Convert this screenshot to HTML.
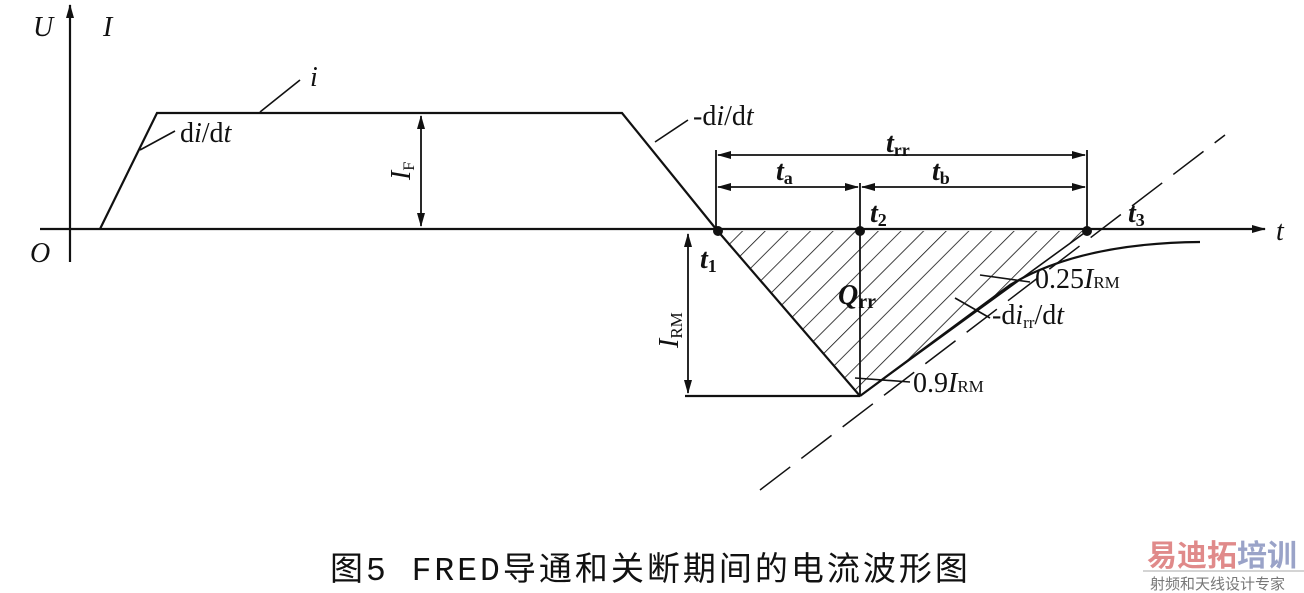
<!DOCTYPE html>
<html><head><meta charset="utf-8"><style>
html,body{margin:0;padding:0;background:#fff;}
svg{display:block}
text{font-family:"Liberation Serif",serif;fill:#111}
</style></head><body>
<svg width="1304" height="593" viewBox="0 0 1304 593" xmlns="http://www.w3.org/2000/svg">
<defs>
<marker id="a" markerWidth="14" markerHeight="8" refX="13" refY="4" orient="auto" markerUnits="userSpaceOnUse"><path d="M0,0 L14,4 L0,8 Z" fill="#111"/></marker>
<marker id="b" markerWidth="14" markerHeight="8" refX="1" refY="4" orient="auto" markerUnits="userSpaceOnUse"><path d="M14,0 L0,4 L14,8 Z" fill="#111"/></marker>
<clipPath id="c"><path d="M716,231 L860,396 L1087,231 Z"/></clipPath>
<pattern id="h" width="16" height="16" patternUnits="userSpaceOnUse" patternTransform="rotate(45)"><line x1="0" y1="0" x2="0" y2="16" stroke="#111" stroke-width="1.6"/></pattern>
</defs>
<g stroke="#111" stroke-width="2.2" fill="none">
<line x1="70" y1="262" x2="70" y2="5" marker-end="url(#a)"/>
<line x1="40" y1="229" x2="1265" y2="229" marker-end="url(#a)"/>
<polyline points="100,229 157,113 622,113 716,229 860,396"/>
<path d="M860,396 L1010,285 Q1080,243 1200,242"/>
<line x1="760" y1="490" x2="1225" y2="135" stroke-dasharray="38,14" stroke-width="1.5"/>
<line x1="685" y1="396" x2="860" y2="396"/>
<line x1="421" y1="116" x2="421" y2="226" marker-end="url(#a)" marker-start="url(#b)" stroke-width="1.8"/>
<line x1="688" y1="234" x2="688" y2="393" marker-end="url(#a)" marker-start="url(#b)" stroke-width="1.8"/>
<line x1="716" y1="150" x2="716" y2="231" stroke-width="1.8"/>
<line x1="860" y1="183" x2="860" y2="396" stroke-width="1.8"/>
<line x1="1087" y1="150" x2="1087" y2="231" stroke-width="1.8"/>
<line x1="718" y1="155" x2="1085" y2="155" marker-end="url(#a)" marker-start="url(#b)" stroke-width="1.8"/>
<line x1="718" y1="187" x2="858" y2="187" marker-end="url(#a)" marker-start="url(#b)" stroke-width="1.8"/>
<line x1="862" y1="187" x2="1085" y2="187" marker-end="url(#a)" marker-start="url(#b)" stroke-width="1.8"/>
<line x1="860" y1="396" x2="1087" y2="231" stroke-width="1.6"/>
<line x1="260" y1="112" x2="300" y2="80" stroke-width="1.6"/>
<line x1="140" y1="150" x2="175" y2="131" stroke-width="1.6"/>
<line x1="655" y1="142" x2="688" y2="120" stroke-width="1.6"/>
<line x1="980" y1="275" x2="1030" y2="282" stroke-width="1.6"/>
<line x1="955" y1="298" x2="990" y2="318" stroke-width="1.6"/>
<line x1="855" y1="378" x2="910" y2="382" stroke-width="1.6"/>
</g>
<rect x="700" y="220" width="400" height="180" fill="url(#h)" clip-path="url(#c)"/>
<circle cx="718" cy="231" r="5" fill="#111"/><circle cx="860" cy="231" r="5" fill="#111"/><circle cx="1087" cy="231" r="5" fill="#111"/>
<g font-style="italic" font-size="28">
<text x="33" y="36">U</text><text x="103" y="36">I</text>
<text x="30" y="262">O</text><text x="310" y="86">i</text>
<text x="1276" y="240">t</text>
</g>
<g font-size="28">
<text x="180" y="142">d<tspan font-style="italic">i</tspan>/d<tspan font-style="italic">t</tspan></text>
<text x="693" y="125">-d<tspan font-style="italic">i</tspan>/d<tspan font-style="italic">t</tspan></text>
<text x="886" y="152" font-style="italic" font-weight="bold">t<tspan font-size="18" dy="4" font-style="normal">rr</tspan></text>
<text x="776" y="180" font-style="italic" font-weight="bold">t<tspan font-size="18" dy="4" font-style="normal">a</tspan></text>
<text x="932" y="180" font-style="italic" font-weight="bold">t<tspan font-size="18" dy="4" font-style="normal">b</tspan></text>
<text x="870" y="222" font-style="italic" font-weight="bold">t<tspan font-size="18" dy="4" font-style="normal">2</tspan></text>
<text x="1128" y="222" font-style="italic" font-weight="bold">t<tspan font-size="18" dy="4" font-style="normal">3</tspan></text>
<text x="700" y="268" font-style="italic" font-weight="bold">t<tspan font-size="18" dy="4" font-style="normal">1</tspan></text>
<text x="838" y="304" font-style="italic" font-weight="bold">Q<tspan font-size="20" dy="4" font-style="normal">rr</tspan></text>
<text x="1035" y="288">0.25<tspan font-style="italic">I</tspan><tspan font-size="17">RM</tspan></text>
<text x="992" y="324">-d<tspan font-style="italic">i</tspan><tspan font-size="17" dy="4">rr</tspan><tspan dy="-4">/d</tspan><tspan font-style="italic">t</tspan></text>
<text x="913" y="392">0.9<tspan font-style="italic">I</tspan><tspan font-size="17">RM</tspan></text>
<text transform="translate(410,180) rotate(-90)" font-style="italic">I<tspan font-size="16" dy="4" font-style="normal">F</tspan></text>
<text transform="translate(678,348) rotate(-90)" font-style="italic">I<tspan font-size="17" dy="4" font-style="normal">RM</tspan></text>
</g>
<text x="330" y="580" font-size="33" letter-spacing="3" style="font-family:'Liberation Mono','Noto Sans CJK SC',monospace;font-weight:normal">图5  FRED导通和关断期间的电流波形图</text>
<text x="1147" y="566" font-size="30" font-weight="bold" style="font-family:'Noto Sans CJK SC',sans-serif;fill:#e08a8a">易迪拓<tspan style="fill:#9aa3c8">培训</tspan></text>
<line x1="1143" y1="571" x2="1304" y2="571" stroke="#aaa" stroke-width="1"/>
<text x="1150" y="589" font-size="15" style="font-family:'Noto Sans CJK SC',sans-serif;fill:#777">射频和天线设计专家</text>
</svg>
</body></html>
